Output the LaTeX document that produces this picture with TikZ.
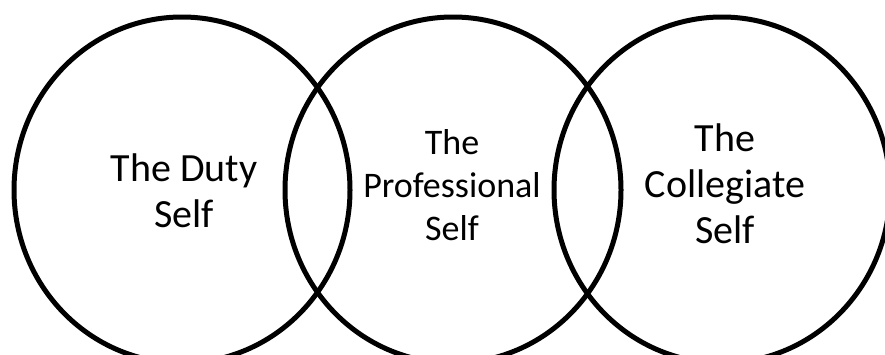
\documentclass[tikz,border=0pt]{standalone}
\usepackage{fontspec}
\setmainfont{Carlito}
\usetikzlibrary{shapes.geometric}
\begin{document}
\begin{tikzpicture}[x=1pt,y=-1pt,
  ring/.style={ellipse,draw=black,line width=5pt,minimum width=336pt,minimum height=346pt,inner sep=0pt,outer sep=0pt},
  lbl/.style={align=center,inner sep=0pt,font=\fontsize{40}{46}\selectfont},
  lblsmall/.style={align=center,inner sep=0pt,font=\fontsize{36}{43}\selectfont}]
\useasboundingbox (0,0) rectangle (885,354);
\clip (0,0) rectangle (885,354);
\node[ring] (duty) at (182,190) {};
\node[ring] (prof) at (453,190) {};
\node[ring] (coll) at (722,190) {};
\node[lbl] (tduty) at (184,191) {The Duty\\Self};
\node[lblsmall] (tprof) at (452,185) {The\\Professional\\Self};
\node[lbl] (tcoll) at (725,184) {The\\Collegiate\\Self};
\end{tikzpicture}
\end{document}
